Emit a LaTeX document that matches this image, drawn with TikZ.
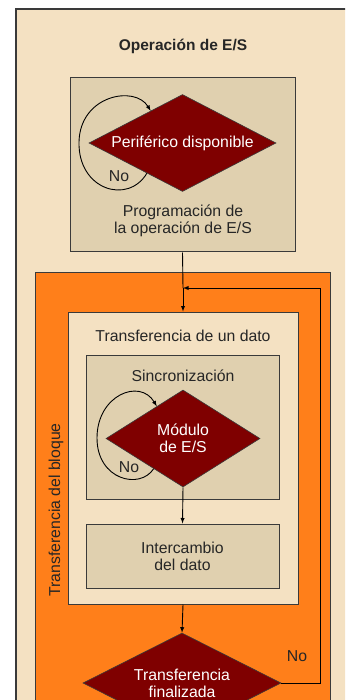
\documentclass[tikz,border=0pt]{standalone}
\usepackage{fontspec}
\setmainfont{Liberation Sans}
\usepackage{xcolor}
\usetikzlibrary{shapes.geometric,calc}
\definecolor{beige}{HTML}{F4E1C2}
\definecolor{tan}{HTML}{E0D0AF}
\definecolor{naranja}{HTML}{FF7F1A}
\definecolor{granate}{HTML}{7F0000}
\definecolor{borde}{HTML}{3A3A3A}
\tikzset{
  caja/.style={draw=borde,line width=1pt,inner sep=0pt},
  rombo/.style={diamond,draw=borde,fill=granate,line width=0.6pt,inner sep=0pt,
    text=white,align=center,font=\fontsize{15.8}{17}\selectfont},
  texto/.style={align=center,text=black!85,font=\fontsize{15.8}{17}\selectfont},
  flecha/.style={->,>=latex,line width=0.9pt,black}
}

\begin{document}
\begin{tikzpicture}[x=1pt,y=-1pt]
    \useasboundingbox (0,0) rectangle (345,700);
    \clip (0,0) rectangle (345,700);
    \fill [white] (0,0) rectangle (345,700);

    % marco exterior
    \draw [caja,fill=beige,line width=1.4pt] (16,9) rectangle (380,740);
    \node [texto,font=\bfseries\fontsize{15.5}{17}\selectfont] (titulo) at (183,46) {Operación de E/S};

    % programacion
    \node [caja,fill=tan,minimum width=225,minimum height=174] (prog) at (182.5,165) {};
    \node [rombo,aspect=1.93,minimum width=187,minimum height=97] (perif) at (182.5,143) {Periférico disponible};
    \node [texto] (progtxt) at (183,221) {Programación de\\la operación de E/S};
    \draw [flecha] ($(perif.west)!0.62!(perif.south)$) .. controls (128,205) and (78,190) .. (79,142)
        .. controls (80,95) and (135,85) .. ($(perif.west)!0.66!(perif.north)$);
    \node [texto] (no1) at (119,176) {No};

    % bloque
    \draw [caja,fill=naranja] (35,272) rectangle (330,740);
    \node [texto,rotate=90] (bloque) at (56,510) {Transferencia del bloque};

    % un dato
    \node [caja,fill=beige,minimum width=230,minimum height=292] (dato) at (183,458) {};
    \node [texto] (datotxt) at (183,336) {Transferencia de un dato};

    \node [caja,fill=tan,minimum width=193,minimum height=144] (sinc) at (182.5,427) {};
    \node [texto] (sinctxt) at (183,376) {Sincronización};
    \node [rombo,aspect=1.59,minimum width=154,minimum height=97] (modulo) at (183,438.5) {Módulo\\de E/S};
    \draw [flecha] ($(modulo.west)!0.62!(modulo.south)$) .. controls (140,490) and (97,480) .. (97,438)
        .. controls (97,395) and (140,378) .. ($(modulo.west)!0.66!(modulo.north)$);
    \node [texto] (no2) at (129,467) {No};

    \node [caja,fill=tan,minimum width=193,minimum height=64,texto] (inter) at (182.5,556) {Intercambio\\del dato};

    % fin
    \node [rombo,aspect=1.98,minimum width=198,minimum height=100] (fin) at (182,683) {Transferencia\\finalizada};
    \node [texto] (no3) at (297,656) {No};

    \coordinate (entra) at (183,288);
    \draw [line width=0.9pt] (prog.south) -- (entra);
    \draw [flecha] (entra) -- (dato.north);
    \draw [flecha] (fin.east) -- (320,683) |- (entra);
    \draw [flecha] (modulo.south) -- (inter.north);
    \draw [flecha] (dato.south) -- (fin.north);
\end{tikzpicture}
\end{document}
